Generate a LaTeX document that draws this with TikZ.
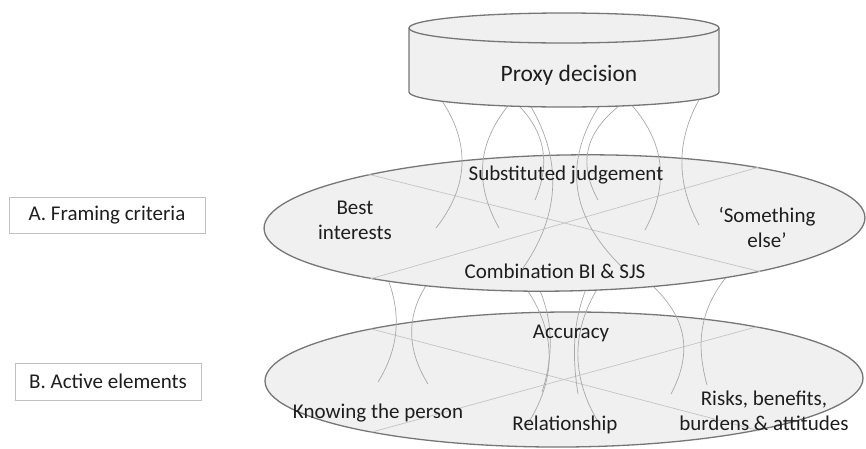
\documentclass[tikz,border=0pt]{standalone}
\usepackage{fontspec}
\setmainfont{Carlito}
\usetikzlibrary{shapes.geometric}
\definecolor{shapefill}{HTML}{F0F0F0}
\definecolor{shapeline}{HTML}{767676}
\definecolor{threadcol}{HTML}{A8A8A8}
\definecolor{crosscol}{HTML}{C4C4C4}
\definecolor{boxline}{HTML}{C0C0C0}
\definecolor{txt}{HTML}{1E1E1E}
\tikzset{
  plate/.style={ellipse, draw=shapeline, line width=1.3pt, fill=shapefill, inner sep=0pt},
  thread/.style={draw=threadcol, line width=0.7pt},
  crossline/.style={draw=crosscol, line width=0.7pt},
  lbl/.style={text=txt, font=\fontsize{21}{25}\selectfont, align=center, inner sep=0pt},
  labelbox/.style={draw=boxline, line width=0.8pt, fill=white, text=txt, font=\fontsize{21}{25}\selectfont, inner sep=0pt}
}
\begin{document}
\begin{tikzpicture}[x=1pt, y=-1pt]
\useasboundingbox (0,0) rectangle (866,448);
% bottom plate
\node[plate, minimum width=598pt, minimum height=135pt, rotate=0.3] (ae) at (564,379.5) {};
\draw[crossline] (ae.165) -- (ae.-15);
\draw[crossline] (ae.15) -- (ae.195);
% lower threads
\draw[thread] (385,272) .. controls (401,309) and (401,345) .. (378,382);
\draw[thread] (436,272) .. controls (405,309) and (405,347) .. (428,384);
\draw[thread] (520,280) .. controls (558,329) and (558,379) .. (525,428);
\draw[thread] (535,280) .. controls (554,317) and (554,355) .. (542,392);
\draw[thread] (590,280) .. controls (572,318) and (572,356) .. (578,394);
\draw[thread] (603,280) .. controls (570,328) and (570,377) .. (600,425);
\draw[thread] (646,280) .. controls (691,318) and (691,356) .. (671,394);
\draw[thread] (728,275) .. controls (697,312) and (697,348) .. (707,385);
% middle plate
\node[plate, minimum width=601pt, minimum height=136pt, rotate=1.05] (fc) at (564.5,223) {};
\draw[crossline] (fc.165) -- (fc.-15);
\draw[crossline] (fc.15) -- (fc.195);
% upper threads
\draw[thread] (440,98) .. controls (470,141) and (470,185) .. (436,228);
\draw[thread] (513,100) .. controls (475,143) and (475,185) .. (499,228);
\draw[thread] (513,100) .. controls (549,133) and (549,167) .. (535,200);
\draw[thread] (527,100) .. controls (562,156) and (562,212) .. (523,268);
\draw[thread] (603,100) .. controls (565,156) and (565,212) .. (623,268);
\draw[thread] (627,100) .. controls (580,133) and (580,167) .. (598,200);
\draw[thread] (627,100) .. controls (668,143) and (668,187) .. (645,230);
\draw[thread] (700,98) .. controls (676,140) and (676,183) .. (699,225);
% cylinder
\fill[shapefill] (409,28) -- (409,92) arc[start angle=180, end angle=0, x radius=155, y radius=15] -- (719,28) -- cycle;
\draw[shapeline, line width=1.3pt] (409,28) -- (409,92) arc[start angle=180, end angle=0, x radius=155, y radius=15] -- (719,28);
\draw[shapeline, line width=1.3pt, fill=shapefill] (564,28) ellipse[x radius=155, y radius=15];
\node[lbl, font=\fontsize{23.5}{28}\selectfont] (pd) at (569,75) {Proxy decision};
% labels
\node[lbl] (sj) at (566,175) {Substituted judgement};
\node[lbl] (bi) at (355,220) {Best\\interests};
\node[lbl] (se) at (767,227) {‘Something\\else’};
\node[lbl] (cb) at (555,271) {Combination BI \& SJS};
\node[lbl] (ac) at (571,333) {Accuracy};
\node[lbl] (kp) at (378,413) {Knowing the person};
\node[lbl] (rl) at (565,425) {Relationship};
\node[lbl] (rb) at (764,411) {Risks, benefits,\\burdens \& attitudes};
% side boxes
\node[labelbox, minimum width=196pt, minimum height=36pt] (ba) at (107,215) {A. Framing criteria};
\node[labelbox, minimum width=186pt, minimum height=37pt] (bb) at (108,381.5) {B. Active elements};
\end{tikzpicture}
\end{document}
